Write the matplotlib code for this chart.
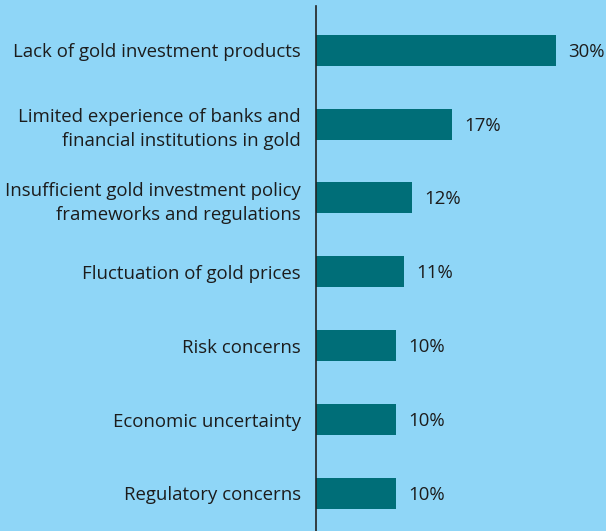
import matplotlib
matplotlib.use("Agg")
import matplotlib.pyplot as plt

categories = [
    "Lack of gold investment products",
    "Limited experience of banks and\nfinancial institutions in gold",
    "Insufficient gold investment policy\nframeworks and regulations",
    "Fluctuation of gold prices",
    "Risk concerns",
    "Economic uncertainty",
    "Regulatory concerns",
]
values = [30, 17, 12, 11, 10, 10, 10]
value_labels = ["30%", "17%", "12%", "11%", "10%", "10%", "10%"]

bg = "#8fd6f7"
bar_color = "#006e78"
text_color = "#1c1c1c"

plt.rcParams["font.family"] = ["Open Sans", "DejaVu Sans"]

W, H = 606, 531
fig = plt.figure(figsize=(W / 100, H / 100), dpi=100, facecolor=bg)
ax = fig.add_axes([316 / W, 0, 1 - 316 / W, (H - 6) / H])
ax.set_facecolor(bg)

pos = list(range(len(categories)))
ax.barh(pos, values, height=0.42, color=bar_color)
ax.set_ylim(len(categories) - 1 + 0.51, -0.6)
ax.set_xlim(0, 290 / 8.0)

for p, v, lab in zip(pos, values, value_labels):
    ax.annotate(lab, (v, p), xytext=(9, -1), textcoords="offset points",
                va="center", ha="left", fontsize=13.4, color=text_color)

ax.set_yticks(pos)
ax.set_yticklabels(categories, fontsize=13.4, color=text_color, linespacing=1.4)
ax.tick_params(axis="y", length=0, pad=11)
ax.set_xticks([])

for s in ["top", "right", "bottom"]:
    ax.spines[s].set_visible(False)
ax.spines["left"].set_color("#222222")
ax.spines["left"].set_linewidth(1.2)

fig.savefig("out.png", dpi=100, facecolor=bg)
